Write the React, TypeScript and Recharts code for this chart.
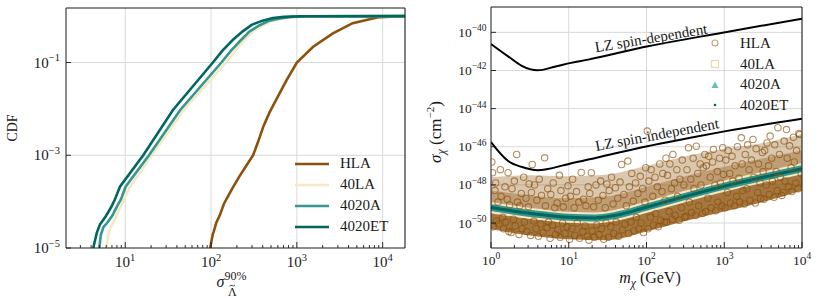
import {
  Area,
  CartesianGrid,
  ComposedChart,
  Line,
  ReferenceDot,
  ReferenceLine,
  Scatter,
  XAxis,
  YAxis,
} from "recharts"

const FONT = "'Liberation Serif', 'Times New Roman', serif"
const INK = "#1a1a1a"
const GRID = "#d9d9d9"

// BrBG colours
const C_HLA = "#8c510a"
const C_40LA = "#f6e8c3"
const C_4020A = "#35978f"
const C_4020ET = "#01665e"

// ---------- left panel: CDF of sigma^90% ----------
const hlaX = [97.7, 101, 105, 107, 115, 126, 141, 158, 182, 214, 263, 309, 355, 407, 479, 575, 759, 1000, 1549, 2630, 4467, 9120, 18200]
const hlaY = [1e-5, 1.4e-5, 2e-5, 2.2e-5, 3.5e-5, 5e-5, 8.9e-5, 1.32e-4, 2.1e-4, 3.5e-4, 6.3e-4, 1e-3, 2e-3, 4.2e-3, 8.3e-3, 0.0158, 0.0417, 0.1, 0.219, 0.427, 0.708, 0.955, 1]

const la40X = [6.07, 6.31, 6.76, 7.41, 8.32, 9.33, 11.0, 20.4, 47.9, 148, 191, 240, 309, 398, 525, 692, 933, 1445, 18200]
const la40Y = [1e-5, 1.9e-5, 2.8e-5, 3.8e-5, 6.3e-5, 9.5e-5, 1.9e-4, 1e-3, 9.5e-3, 0.1, 0.178, 0.295, 0.47, 0.63, 0.8, 0.89, 0.966, 0.99, 1]

const a4020X = [4.98, 5.19, 5.56, 6.17, 7.08, 8.13, 8.91, 10.1, 18.9, 43.7, 132, 170, 219, 282, 363, 479, 631, 851, 1318, 18200]
const a4020Y = [1e-5, 1.9e-5, 2.8e-5, 3.5e-5, 5e-5, 8.3e-5, 1.12e-4, 2.1e-4, 1e-3, 9.5e-3, 0.1, 0.178, 0.295, 0.47, 0.63, 0.8, 0.89, 0.966, 0.99, 1]

const et4020X = [4.24, 4.65, 5.07, 5.96, 6.93, 7.59, 8.67, 16.2, 36.0, 105, 135, 180, 234, 297, 398, 525, 708, 1100, 18200]
const et4020Y = [1e-5, 2.1e-5, 3.2e-5, 4.9e-5, 7.9e-5, 1.12e-4, 2.1e-4, 1e-3, 9.5e-3, 0.1, 0.178, 0.31, 0.47, 0.65, 0.8, 0.91, 0.966, 0.993, 1]

const cdfXTicks = [3, 4, 5, 6, 7, 8, 9, 10, 20, 30, 40, 50, 60, 70, 80, 90, 100, 200, 300, 400, 500, 600, 700, 800, 900, 1000, 2000, 3000, 4000, 5000, 6000, 7000, 8000, 9000, 10000]
const cdfYTicks = [1e-5, 1e-3, 1e-1]

// ---------- right panel: cross-section vs mass (log10 values) ----------
const sdLogMass = [0, 0.22, 0.39, 0.5, 0.6, 0.82, 1.03, 1.25, 2.02, 2.96, 4]
const sdLogSigma = [-40.61, -41.26, -41.74, -41.93, -41.99, -41.8, -41.6, -41.43, -40.73, -40.03, -39.28]

const siLogMass = [0, 0.22, 0.39, 0.6, 1.0, 1.37, 2.01, 2.5, 3.02, 4]
const siLogSigma = [-45.76, -46.75, -47.05, -47.23, -46.9, -46.56, -45.97, -45.58, -45.18, -44.53]

const bandLogMass = [0, 0.3, 0.6, 1.0, 1.34, 1.6, 2.0, 2.5, 3.0, 3.5, 4.0]
const bandLogSigma = [-49.19, -49.38, -49.54, -49.7, -49.73, -49.6, -49.17, -48.6, -48.07, -47.6, -47.15]

// where the HLA rings pile up
const cloudLogMass = [0, 0.5, 1, 1.5, 2, 2.5, 3, 3.5, 4]
const cloudLow = [-50.33, -50.65, -50.85, -50.9, -50.45, -49.9, -49.4, -48.9, -48.3]
const cloudMid = [-49.19, -49.49, -49.7, -49.66, -49.17, -48.6, -48.07, -47.6, -47.15]
const cloudNear = [-48.3, -48.55, -48.7, -48.6, -48.1, -47.55, -47.05, -46.6, -46.2]
const cloudHigh = [-47.6, -47.5, -47.55, -47.45, -47.0, -46.5, -46.1, -45.8, -45.35]

const hlaPoints: [number, number][] = [
  [0.02, -47.36], [0.03, -50.2], [0.05, -48.3], [0.07, -49.9], [0.09, -48.9], [0.1, -50.05], [0.12, -47.2], [0.13, -48.6], [0.15, -49.7], [0.16, -50.3], [0.18, -48.1], [0.19, -49.95], [0.21, -48.75], [0.22, -47.36], [0.23, -50.45], [0.24, -49.05], [0.01, -46.8], [0.06, -47.9],
  [0.26, -50.5], [0.27, -48.2], [0.29, -49.8], [0.3, -47.8], [0.31, -50.15], [0.33, -46.4], [0.34, -48.9], [0.36, -50.6], [0.37, -49.1], [0.39, -48.45], [0.4, -50.3], [0.42, -47.6], [0.43, -49.95], [0.45, -48.7], [0.46, -50.45], [0.48, -49.15], [0.49, -47.95],
  [0.51, -50.65], [0.52, -48.4], [0.53, -46.93], [0.55, -49.9], [0.56, -48.0], [0.58, -50.3], [0.59, -48.8], [0.61, -50.7], [0.62, -47.7], [0.64, -50.05], [0.65, -48.55], [0.67, -50.5], [0.69, -46.58], [0.7, -49.1], [0.72, -50.25], [0.73, -48.2], [0.74, -49.95],
  [0.76, -50.8], [0.77, -48.5], [0.79, -50.1], [0.8, -47.9], [0.82, -49.2], [0.83, -50.6], [0.85, -48.95], [0.86, -50.35], [0.88, -47.5], [0.89, -50.75], [0.9, -48.3], [0.92, -50.0], [0.93, -49.15], [0.95, -50.55], [0.96, -48.7], [0.98, -50.2], [0.99, -48.05],
  [1.01, -50.85], [1.02, -48.6], [1.04, -50.3], [1.05, -47.7], [1.07, -49.2], [1.08, -50.65], [1.1, -48.35], [1.11, -50.0], [1.13, -48.9], [1.14, -50.8], [1.16, -47.35], [1.18, -50.45], [1.19, -48.75], [1.21, -50.15], [1.22, -49.1], [1.24, -50.7], [1.25, -48.1],
  [1.26, -50.9], [1.27, -48.45], [1.29, -47.36], [1.3, -50.4], [1.32, -49.15], [1.33, -50.75], [1.35, -48.0], [1.36, -50.1], [1.38, -48.8], [1.39, -50.6], [1.41, -47.8], [1.42, -50.3], [1.44, -48.55], [1.45, -50.85], [1.47, -49.2], [1.48, -50.0], [1.49, -47.95],
  [1.51, -50.75], [1.52, -48.3], [1.54, -50.2], [1.55, -47.6], [1.57, -49.0], [1.58, -50.55], [1.6, -48.15], [1.61, -49.95], [1.63, -48.7], [1.64, -50.7], [1.66, -47.85], [1.68, -46.93], [1.69, -50.35], [1.71, -48.5], [1.72, -50.05], [1.74, -49.1], [1.76, -46.75],
  [1.77, -50.55], [1.78, -48.1], [1.8, -49.95], [1.81, -47.4], [1.83, -48.85], [1.84, -50.4], [1.86, -47.9], [1.87, -49.7], [1.89, -48.45], [1.9, -50.3], [1.92, -47.55], [1.93, -50.0], [1.95, -48.2], [1.96, -50.5], [1.98, -48.9], [1.99, -47.1], [2.01, -45.18],
  [2.02, -50.3], [2.03, -47.8], [2.05, -49.7], [2.06, -47.2], [2.08, -48.6], [2.09, -50.1], [2.11, -47.6], [2.12, -49.5], [2.14, -48.1], [2.15, -50.2], [2.17, -46.9], [2.18, -49.85], [2.2, -48.35], [2.21, -47.4], [2.23, -49.95], [2.24, -48.8], [2.25, -46.6],
  [2.26, -49.95], [2.27, -47.5], [2.29, -49.4], [2.3, -46.9], [2.32, -48.2], [2.33, -49.8], [2.34, -46.4], [2.36, -47.9], [2.37, -49.6], [2.39, -47.2], [2.4, -48.6], [2.42, -49.85], [2.43, -47.7], [2.45, -49.2], [2.46, -46.7], [2.48, -48.0], [2.49, -49.7],
  [2.51, -49.65], [2.52, -47.2], [2.54, -46.05], [2.55, -48.9], [2.57, -47.7], [2.58, -49.45], [2.6, -46.6], [2.61, -48.2], [2.63, -49.6], [2.64, -45.97], [2.66, -47.4], [2.67, -49.1], [2.69, -46.9], [2.7, -48.0], [2.72, -49.5], [2.73, -47.1], [2.75, -46.4],
  [2.76, -49.4], [2.77, -47.0], [2.79, -48.7], [2.8, -46.5], [2.82, -47.6], [2.83, -49.2], [2.85, -46.8], [2.86, -46.14], [2.88, -48.0], [2.89, -49.35], [2.91, -47.3], [2.92, -48.9], [2.94, -46.6], [2.95, -47.9], [2.97, -49.1], [2.98, -46.05], [2.99, -47.45],
  [3.01, -49.2], [3.02, -46.7], [3.04, -48.4], [3.05, -46.2], [3.07, -47.4], [3.08, -48.95], [3.1, -46.5], [3.11, -47.8], [3.13, -49.1], [3.14, -47.0], [3.16, -48.6], [3.17, -46.0], [3.19, -47.65], [3.2, -48.9], [3.22, -45.53], [3.23, -46.9], [3.24, -48.3],
  [3.26, -49.0], [3.27, -46.4], [3.29, -48.2], [3.3, -45.9], [3.32, -47.2], [3.33, -48.8], [3.35, -46.7], [3.37, -45.62], [3.38, -47.6], [3.4, -48.95], [3.41, -46.1], [3.43, -48.4], [3.44, -46.9], [3.46, -47.9], [3.47, -48.7], [3.49, -46.3], [3.5, -47.3],
  [3.51, -48.75], [3.52, -46.2], [3.54, -48.0], [3.55, -45.8], [3.57, -47.0], [3.58, -48.5], [3.59, -45.44], [3.61, -46.6], [3.62, -47.8], [3.64, -48.65], [3.65, -45.9], [3.67, -47.3], [3.68, -48.3], [3.69, -45.0], [3.71, -46.4], [3.72, -47.6], [3.74, -48.55],
  [3.76, -48.4], [3.77, -45.7], [3.78, -47.8], [3.8, -45.1], [3.81, -46.6], [3.83, -48.1], [3.84, -45.95], [3.86, -47.1], [3.87, -48.35], [3.89, -45.5], [3.9, -46.8], [3.92, -47.9], [3.93, -46.2], [3.95, -48.2], [3.96, -45.3], [3.97, -45.36], [3.99, -47.4],
]

const massTicks = [1, 2, 3, 4, 5, 6, 7, 8, 9, 10, 20, 30, 40, 50, 60, 70, 80, 90, 100, 200, 300, 400, 500, 600, 700, 800, 900, 1000, 2000, 3000, 4000, 5000, 6000, 7000, 8000, 9000, 10000]
const sigmaTicks = [1e-50, 1e-48, 1e-46, 1e-44, 1e-42, 1e-40]

// label anchors (log10 mass, log10 sigma)
const sdLabelAt = [2.069, -40.555]
const siLabelAt = [2.147, -45.618]

// ---------- helpers ----------
const pairs = (xs: number[], ys: number[]) => xs.map((x, i) => ({ x, y: ys[i] }))
const logRows = (lm: number[], ls: number[]) => lm.map((v, i) => ({ m: 10 ** v, s: 10 ** ls[i] }))
const logRange = (lm: number[], lo: number[], hi: number[]) =>
  lm.map((v, i) => ({ m: 10 ** v, range: [10 ** lo[i], 10 ** hi[i]] }))

const isDecade = (v: number) => Math.abs(Math.log10(v) - Math.round(Math.log10(v))) < 1e-6
const expText = (v: number) => {
  const e = Math.round(Math.log10(v))
  return e < 0 ? `\u2212${-e}` : `${e}`
}

function xTick(fontSize: number, supSize: number, dy: number) {
  return (props: any) => {
    const { x, y, payload } = props
    const dec = isDecade(payload.value)
    return (
      <g>
        <line x1={x} x2={x} y1={y} y2={y - (dec ? 6 : 3)} stroke={INK} strokeWidth={0.9} />
        {dec && (
          <text x={x} y={y + dy} textAnchor="middle" fontFamily={FONT} fontSize={fontSize} fill={INK}>
            10
            <tspan dy={-fontSize * 0.42} fontSize={supSize}>
              {expText(payload.value)}
            </tspan>
          </text>
        )}
      </g>
    )
  }
}

function yTick(fontSize: number, supSize: number, gap: number, dy: number) {
  return (props: any) => {
    const { x, y, payload } = props
    return (
      <g>
        <line x1={x} x2={x + 5} y1={y} y2={y} stroke={INK} strokeWidth={0.9} />
        <text x={x - gap} y={y + dy} textAnchor="end" fontFamily={FONT} fontSize={fontSize} fill={INK}>
          10
          <tspan dy={-fontSize * 0.42} fontSize={supSize}>
            {expText(payload.value)}
          </tspan>
        </text>
      </g>
    )
  }
}

const ring = (p: any) => (
  <circle cx={p.cx} cy={p.cy} r={3.2} fill="none" stroke={C_HLA} strokeOpacity={0.65} strokeWidth={1.1} />
)

function CdfXLabel() {
  return (
    <g fontFamily={FONT} fill={INK}>
      <text x={216.5} y={287} fontSize={16} fontStyle="italic">
        σ
      </text>
      <text x={224.5} y={280} fontSize={12}>
        90%
      </text>
      <text x={228} y={295.5} fontSize={12}>
        Λ
      </text>
      <path d="M229.6,286.2 q1.3,-1.5 2.7,-0.6 q1.4,0.9 2.7,-0.6" fill="none" stroke={INK} strokeWidth={0.8} />
    </g>
  )
}

function CdfYLabel() {
  return (
    <text transform="rotate(-90)" x={-128} y={17} textAnchor="middle" fontFamily={FONT} fontSize={14} fill={INK}>
      CDF
    </text>
  )
}

function MassLabel() {
  return (
    <text x={230} y={283} textAnchor="middle" fontFamily={FONT} fontSize={16} fill={INK}>
      <tspan fontStyle="italic">m</tspan>
      <tspan dy={4} fontSize={11.5} fontStyle="italic">
        χ
      </tspan>
      <tspan dy={-4}> (GeV)</tspan>
    </text>
  )
}

function SigmaLabel() {
  return (
    <text transform="rotate(-90)" x={-132} y={21} textAnchor="middle" fontFamily={FONT} fontSize={17} fill={INK}>
      <tspan fontStyle="italic">σ</tspan>
      <tspan dy={4} fontSize={12} fontStyle="italic">
        χ
      </tspan>
      <tspan dy={-4}> (cm</tspan>
      <tspan dy={-7} fontSize={11}>
        −2
      </tspan>
      <tspan dy={7}>)</tspan>
    </text>
  )
}

const rotatedText = (text: string, angle: number) => (p: any) => (
  <text
    x={p.cx}
    y={p.cy}
    transform={`rotate(${angle}, ${p.cx}, ${p.cy})`}
    textAnchor="middle"
    fontFamily={FONT}
    fontSize={15}
    fill={INK}
  >
    {text}
  </text>
)

function CdfPanel() {
  return (
    <ComposedChart width={420} height={298} margin={{ top: 8, right: 15, bottom: 0, left: 0 }}>
      <CartesianGrid stroke={GRID} horizontalValues={[1e-3, 1e-1]} verticalValues={[10, 100, 1000, 10000]} />
      <XAxis
        dataKey="x"
        type="number"
        scale="log"
        domain={[2.04, 18200]}
        allowDataOverflow
        ticks={cdfXTicks}
        interval={0}
        tickSize={0}
        tickMargin={0}
        tickLine={false}
        height={50}
        stroke={INK}
        tick={xTick(15, 10.5, 19)}
        label={<CdfXLabel />}
      />
      <YAxis
        dataKey="y"
        type="number"
        scale="log"
        domain={[1e-5, 1.5]}
        allowDataOverflow
        ticks={cdfYTicks}
        interval={0}
        tickSize={0}
        tickMargin={0}
        tickLine={false}
        width={66}
        stroke={INK}
        tick={yTick(15, 10.5, 6, 5)}
        label={<CdfYLabel />}
      />
      <Line data={pairs(hlaX, hlaY)} dataKey="y" stroke={C_HLA} strokeWidth={2.6} dot={false} isAnimationActive={false} />
      <Line data={pairs(la40X, la40Y)} dataKey="y" stroke={C_40LA} strokeWidth={2.6} dot={false} isAnimationActive={false} />
      <Line data={pairs(a4020X, a4020Y)} dataKey="y" stroke={C_4020A} strokeWidth={2.6} dot={false} isAnimationActive={false} />
      <Line data={pairs(et4020X, et4020Y)} dataKey="y" stroke={C_4020ET} strokeWidth={2.6} dot={false} isAnimationActive={false} />
      <ReferenceLine y={1.5} stroke={INK} strokeWidth={1.1} ifOverflow="visible" />
      <ReferenceLine x={18200} stroke={INK} strokeWidth={1.1} ifOverflow="visible" />
    </ComposedChart>
  )
}

function LimitPanel() {
  const core = logRange(cloudLogMass, cloudLow, cloudMid)
  const near = logRange(cloudLogMass, cloudMid, cloudNear)
  const upper = logRange(cloudLogMass, cloudMid, cloudHigh)
  const hla = hlaPoints.map(([lm, ls]) => ({ m: 10 ** lm, s: 10 ** ls }))
  const band = logRows(bandLogMass, bandLogSigma)
  return (
    <ComposedChart width={402} height={298} margin={{ top: 7, right: 20, bottom: 0, left: 0 }}>
      <CartesianGrid
        stroke={GRID}
        horizontalValues={[1e-50, 1e-48, 1e-46, 1e-44, 1e-42, 1e-40]}
        verticalValues={[10, 100, 1000]}
      />
      <XAxis
        dataKey="m"
        type="number"
        scale="log"
        domain={[1, 10000]}
        allowDataOverflow
        ticks={massTicks}
        interval={0}
        tickSize={0}
        tickMargin={0}
        tickLine={false}
        height={50}
        stroke={INK}
        tick={xTick(13.5, 9.5, 17)}
        label={<MassLabel />}
      />
      <YAxis
        dataKey="s"
        type="number"
        scale="log"
        domain={[10 ** -51.31, 10 ** -38.67]}
        allowDataOverflow
        ticks={sigmaTicks}
        interval={0}
        tickSize={0}
        tickMargin={0}
        tickLine={false}
        width={71}
        stroke={INK}
        tick={yTick(13.5, 9.5, 4.5, 4.6)}
        label={<SigmaLabel />}
      />
      <Area data={upper} dataKey="range" type="monotone" stroke="none" fill={C_HLA} fillOpacity={0.32} isAnimationActive={false} />
      <Area data={near} dataKey="range" type="monotone" stroke="none" fill={C_HLA} fillOpacity={0.35} isAnimationActive={false} />
      <Area data={core} dataKey="range" type="monotone" stroke="none" fill={C_HLA} fillOpacity={0.78} isAnimationActive={false} />
      <Scatter data={hla} shape={ring} isAnimationActive={false} />
      <Line data={band} dataKey="s" type="monotone" stroke={C_40LA} strokeWidth={11} dot={false} isAnimationActive={false} />
      <Line data={band} dataKey="s" type="monotone" stroke={C_4020A} strokeWidth={7} dot={false} isAnimationActive={false} />
      <Line data={band} dataKey="s" type="monotone" stroke={C_4020ET} strokeWidth={3} dot={false} isAnimationActive={false} />
      <Line data={logRows(sdLogMass, sdLogSigma)} dataKey="s" type="monotone" stroke="#000" strokeWidth={2} dot={false} isAnimationActive={false} />
      <Line data={logRows(siLogMass, siLogSigma)} dataKey="s" type="monotone" stroke="#000" strokeWidth={2} dot={false} isAnimationActive={false} />
      <ReferenceDot x={10 ** sdLabelAt[0]} y={10 ** sdLabelAt[1]} r={0} ifOverflow="visible" shape={rotatedText("LZ spin-dependent", -9.5)} />
      <ReferenceDot x={10 ** siLabelAt[0]} y={10 ** siLabelAt[1]} r={0} ifOverflow="visible" shape={rotatedText("LZ spin-independent", -10.5)} />
      <ReferenceLine y={10 ** -38.67} stroke={INK} strokeWidth={1.1} ifOverflow="visible" />
      <ReferenceLine x={10000} stroke={INK} strokeWidth={1.1} ifOverflow="visible" />
    </ComposedChart>
  )
}

const cdfLegend = [
  { name: "HLA", color: C_HLA },
  { name: "40LA", color: C_40LA },
  { name: "4020A", color: C_4020A },
  { name: "4020ET", color: C_4020ET },
]

function LegendMarker({ kind }: { kind: string }) {
  if (kind === "HLA") return <circle cx={7} cy={7} r={3} fill="none" stroke={C_HLA} strokeOpacity={0.55} strokeWidth={1.1} />
  if (kind === "40LA") return <rect x={3.5} y={3.5} width={7} height={7} fill="none" stroke="#ecd6a0" strokeWidth={1.1} />
  if (kind === "4020A") return <polygon points="7,3.5 10.5,10 3.5,10" fill="#6cbdb4" />
  return <circle cx={7} cy={7} r={1.3} fill={C_4020ET} />
}

export default function App() {
  return (
    <div style={{ position: "absolute", left: 0, top: 0, width: 822, height: 298, background: "#fff", overflow: "hidden" }}>
      <div style={{ position: "absolute", left: 0, top: 0 }}>
        <CdfPanel />
      </div>
      <div style={{ position: "absolute", left: 420, top: 0 }}>
        <LimitPanel />
      </div>
      <div style={{ position: "absolute", left: 295, top: 153, fontFamily: FONT, fontSize: 15, color: INK }}>
        {cdfLegend.map((r) => (
          <div key={r.name} style={{ display: "flex", alignItems: "center", height: 21, lineHeight: "21px" }}>
            <svg width={34} height={6} style={{ display: "block" }}>
              <line x1={0} x2={34} y1={3} y2={3} stroke={r.color} strokeWidth={2.6} />
            </svg>
            <span style={{ marginLeft: 11 }}>{r.name}</span>
          </div>
        ))}
      </div>
      <div style={{ position: "absolute", left: 708, top: 33, fontFamily: FONT, fontSize: 15, color: INK }}>
        {cdfLegend.map((r) => (
          <div key={r.name} style={{ display: "flex", alignItems: "center", height: 20.7, lineHeight: "20.7px" }}>
            <svg width={14} height={14} style={{ display: "block" }}>
              <LegendMarker kind={r.name} />
            </svg>
            <span style={{ marginLeft: 18 }}>{r.name}</span>
          </div>
        ))}
      </div>
    </div>
  )
}
